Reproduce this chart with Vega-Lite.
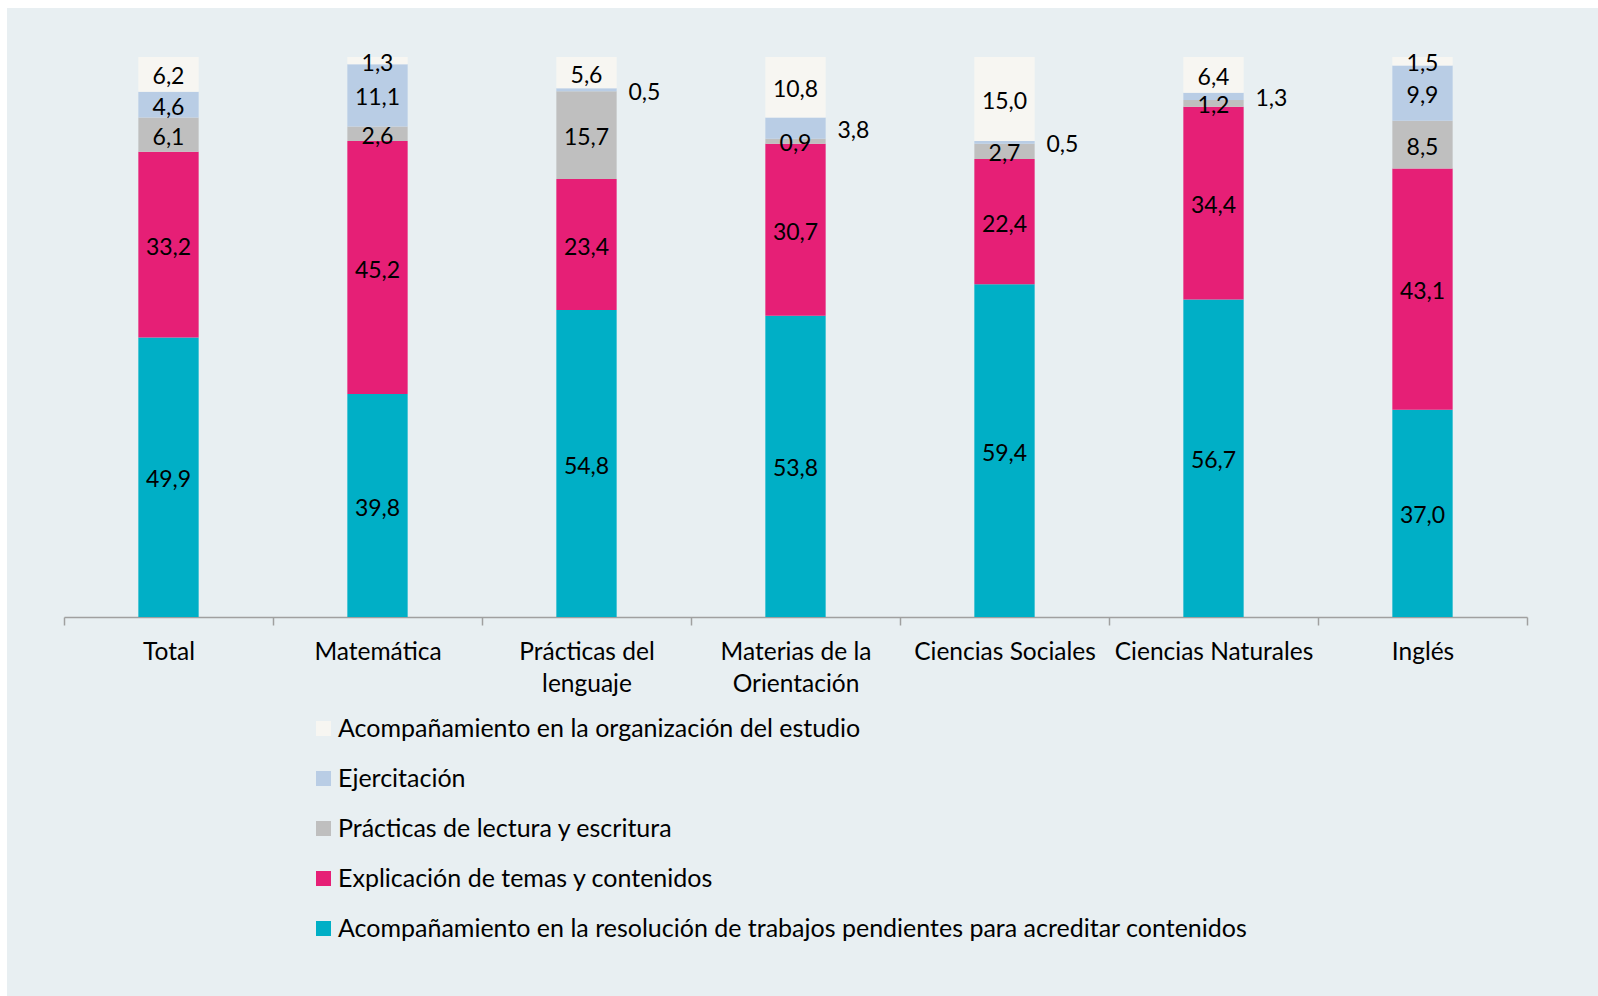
{
  "$schema": "https://vega.github.io/schema/vega-lite/v6.json",
  "width": 1591,
  "height": 988,
  "autosize": "none",
  "padding": {"left": 7, "top": 8, "right": 0, "bottom": 0},
  "background": "#FFFFFF",
  "config": {
    "view": {"stroke": null, "fill": "#E8EFF2"},
    "font": "Lato",
    "locale": {"number": {"decimal": ",", "thousands": ".", "grouping": [3], "currency": ["", ""]}}
  },
  "data": {"values": [
    {"c": "Total", "s": "Acompañamiento en la resolución de trabajos pendientes para acreditar contenidos", "k": 1, "v": 49.9},
    {"c": "Total", "s": "Explicación de temas y contenidos", "k": 2, "v": 33.2},
    {"c": "Total", "s": "Prácticas de lectura y escritura", "k": 3, "v": 6.1},
    {"c": "Total", "s": "Ejercitación", "k": 4, "v": 4.6},
    {"c": "Total", "s": "Acompañamiento en la organización del estudio", "k": 5, "v": 6.2},
    {"c": "Matemática", "s": "Acompañamiento en la resolución de trabajos pendientes para acreditar contenidos", "k": 1, "v": 39.8},
    {"c": "Matemática", "s": "Explicación de temas y contenidos", "k": 2, "v": 45.2},
    {"c": "Matemática", "s": "Prácticas de lectura y escritura", "k": 3, "v": 2.6},
    {"c": "Matemática", "s": "Ejercitación", "k": 4, "v": 11.1},
    {"c": "Matemática", "s": "Acompañamiento en la organización del estudio", "k": 5, "v": 1.3},
    {"c": "Prácticas del lenguaje", "s": "Acompañamiento en la resolución de trabajos pendientes para acreditar contenidos", "k": 1, "v": 54.8},
    {"c": "Prácticas del lenguaje", "s": "Explicación de temas y contenidos", "k": 2, "v": 23.4},
    {"c": "Prácticas del lenguaje", "s": "Prácticas de lectura y escritura", "k": 3, "v": 15.7},
    {"c": "Prácticas del lenguaje", "s": "Ejercitación", "k": 4, "v": 0.5},
    {"c": "Prácticas del lenguaje", "s": "Acompañamiento en la organización del estudio", "k": 5, "v": 5.6},
    {"c": "Materias de la Orientación", "s": "Acompañamiento en la resolución de trabajos pendientes para acreditar contenidos", "k": 1, "v": 53.8},
    {"c": "Materias de la Orientación", "s": "Explicación de temas y contenidos", "k": 2, "v": 30.7},
    {"c": "Materias de la Orientación", "s": "Prácticas de lectura y escritura", "k": 3, "v": 0.9},
    {"c": "Materias de la Orientación", "s": "Ejercitación", "k": 4, "v": 3.8},
    {"c": "Materias de la Orientación", "s": "Acompañamiento en la organización del estudio", "k": 5, "v": 10.8},
    {"c": "Ciencias Sociales", "s": "Acompañamiento en la resolución de trabajos pendientes para acreditar contenidos", "k": 1, "v": 59.4},
    {"c": "Ciencias Sociales", "s": "Explicación de temas y contenidos", "k": 2, "v": 22.4},
    {"c": "Ciencias Sociales", "s": "Prácticas de lectura y escritura", "k": 3, "v": 2.7},
    {"c": "Ciencias Sociales", "s": "Ejercitación", "k": 4, "v": 0.5},
    {"c": "Ciencias Sociales", "s": "Acompañamiento en la organización del estudio", "k": 5, "v": 15.0},
    {"c": "Ciencias Naturales", "s": "Acompañamiento en la resolución de trabajos pendientes para acreditar contenidos", "k": 1, "v": 56.7},
    {"c": "Ciencias Naturales", "s": "Explicación de temas y contenidos", "k": 2, "v": 34.4},
    {"c": "Ciencias Naturales", "s": "Prácticas de lectura y escritura", "k": 3, "v": 1.2},
    {"c": "Ciencias Naturales", "s": "Ejercitación", "k": 4, "v": 1.3},
    {"c": "Ciencias Naturales", "s": "Acompañamiento en la organización del estudio", "k": 5, "v": 6.4},
    {"c": "Inglés", "s": "Acompañamiento en la resolución de trabajos pendientes para acreditar contenidos", "k": 1, "v": 37.0},
    {"c": "Inglés", "s": "Explicación de temas y contenidos", "k": 2, "v": 43.1},
    {"c": "Inglés", "s": "Prácticas de lectura y escritura", "k": 3, "v": 8.5},
    {"c": "Inglés", "s": "Ejercitación", "k": 4, "v": 9.9},
    {"c": "Inglés", "s": "Acompañamiento en la organización del estudio", "k": 5, "v": 1.5}
  ]},
  "encoding": {
    "x": {
      "field": "c", "type": "nominal", "sort": null,
      "scale": {"range": [57, 1520], "paddingInner": 0, "paddingOuter": 0},
      "axis": {
        "title": null,
        "offset": -379,
        "labelAngle": 0,
        "labelFont": "Lato",
        "labelFontSize": 24.5,
        "labelColor": "#000000",
        "labelPadding": 15,
        "labelLineHeight": 32.5,
        "labelLimit": 400,
        "labelOverlap": false,
        "labelBound": false,
        "labelFlush": false,
        "labelBaseline": "top",
        "labelExpr": "datum.value == 'Prácticas del lenguaje' ? ['Prácticas del', 'lenguaje'] : datum.value == 'Materias de la Orientación' ? ['Materias de la', 'Orientación'] : datum.value",
        "tickBand": "extent",
        "tickSize": 8,
        "tickColor": "#A0A0A0",
        "tickWidth": 1.5,
        "domainColor": "#A0A0A0",
        "domainWidth": 1.5,
        "grid": false
      }
    }
  },
  "layer": [
    {
      "mark": {"type": "bar", "width": {"band": 0.2886}},
      "encoding": {
        "y": {"field": "v", "type": "quantitative", "stack": "zero", "scale": {"domain": [-67.68, 108.75], "nice": false, "zero": false}, "axis": null},
        "color": {
          "field": "s", "type": "nominal",
          "scale": {
            "domain": ["Acompañamiento en la organización del estudio", "Ejercitación", "Prácticas de lectura y escritura", "Explicación de temas y contenidos", "Acompañamiento en la resolución de trabajos pendientes para acreditar contenidos"],
            "range": ["#F7F6F2", "#B9CDE5", "#BFBFBF", "#E61F76", "#00AFC6"]
          },
          "legend": {
            "title": null,
            "orient": "none",
            "direction": "vertical",
            "legendX": 304,
            "legendY": 708,
            "padding": 0,
            "symbolType": "square",
            "symbolSize": 225,
            "symbolStrokeWidth": 0,
            "symbolOpacity": 1,
            "labelFont": "Lato",
            "labelFontSize": 25,
            "labelColor": "#000000",
            "labelOffset": 2,
            "labelLimit": 1200,
            "rowPadding": 24
          }
        },
        "order": {"field": "k", "type": "quantitative"}
      }
    },
    {
      "transform": [
        {"stack": "v", "groupby": ["c"], "sort": [{"field": "k", "order": "ascending"}], "as": ["y0", "y1"]},
        {"filter": "!(datum.k == 4 && datum.v < 4)"},
        {"fold": ["y0", "y1"], "as": ["edge", "p"]}
      ],
      "mark": {"type": "text", "font": "Lato", "fontSize": 23, "color": "#000000", "align": "center", "baseline": "middle", "dy": 3},
      "encoding": {
        "y": {"aggregate": "mean", "field": "p", "type": "quantitative", "scale": {"domain": [-67.68, 108.75], "nice": false, "zero": false}},
        "detail": {"field": "s", "type": "nominal"},
        "text": {"field": "v", "type": "quantitative", "format": ".1f"}
      }
    },
    {
      "transform": [
        {"stack": "v", "groupby": ["c"], "sort": [{"field": "k", "order": "ascending"}], "as": ["y0", "y1"]},
        {"filter": "datum.k == 4 && datum.v < 4"},
        {"fold": ["y0", "y1"], "as": ["edge", "p"]}
      ],
      "mark": {"type": "text", "font": "Lato", "fontSize": 23, "color": "#000000", "align": "left", "baseline": "middle", "dx": 42, "dy": 3},
      "encoding": {
        "y": {"aggregate": "mean", "field": "p", "type": "quantitative", "scale": {"domain": [-67.68, 108.75], "nice": false, "zero": false}},
        "detail": {"field": "s", "type": "nominal"},
        "text": {"field": "v", "type": "quantitative", "format": ".1f"}
      }
    }
  ]
}
